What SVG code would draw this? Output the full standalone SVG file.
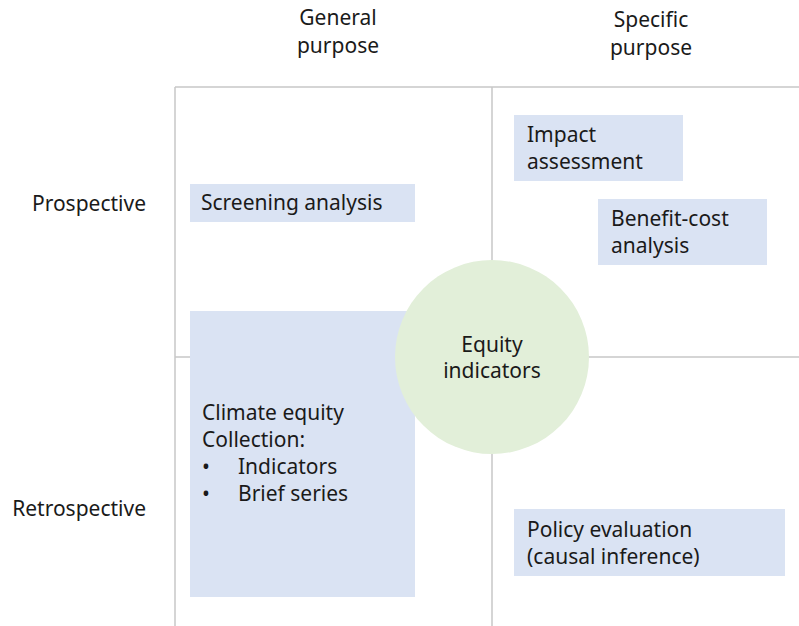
<svg xmlns="http://www.w3.org/2000/svg" width="799" height="626" viewBox="0 0 799 626">
<style>
text{font-family:"Noto Sans","Liberation Sans",sans-serif;font-size:21px;fill:#1a1a1a}
.c{text-anchor:middle}
.r{text-anchor:end}
.box{fill:#dae3f3}
.grid{stroke:#c8c8c8;stroke-width:1.5;fill:none}
</style>
<rect width="799" height="626" fill="#fff"/>
<g id="connectors">
<path class="grid" d="M175 87H799M175 87V626M492 87V626M175 357H799"/>
</g>
<g id="hdr-general"><text class="c" x="338" y="25">General</text><text class="c" x="338" y="53">purpose</text></g>
<g id="hdr-specific"><text class="c" x="651" y="27">Specific</text><text class="c" x="651" y="55">purpose</text></g>
<g id="row-prospective"><text class="r" x="146" y="211">Prospective</text></g>
<g id="row-retrospective"><text class="r" x="146" y="516">Retrospective</text></g>
<g id="screening"><rect class="box" x="190" y="184" width="225" height="38"/><text x="201" y="210">Screening analysis</text></g>
<g id="impact"><rect class="box" x="514" y="115" width="169" height="66"/><text x="527" y="142">Impact</text><text x="527" y="169">assessment</text></g>
<g id="benefit"><rect class="box" x="598" y="199" width="169" height="66"/><text x="611" y="226">Benefit-cost</text><text x="611" y="253">analysis</text></g>
<g id="climate"><rect class="box" x="190" y="311" width="225" height="286"/>
<text x="202" y="420">Climate equity</text><text x="202" y="447">Collection:</text>
<text x="202" y="474">•</text><text x="238" y="474">Indicators</text>
<text x="202" y="501">•</text><text x="238" y="501">Brief series</text></g>
<g id="policy"><rect class="box" x="514" y="509" width="271" height="67"/><text x="527" y="537">Policy evaluation</text><text x="527" y="564">(causal inference)</text></g>
<g id="equity"><circle cx="492" cy="357" r="97" fill="#e2efd9"/><text class="c" x="492" y="352">Equity</text><text class="c" x="492" y="378">indicators</text></g>
</svg>
